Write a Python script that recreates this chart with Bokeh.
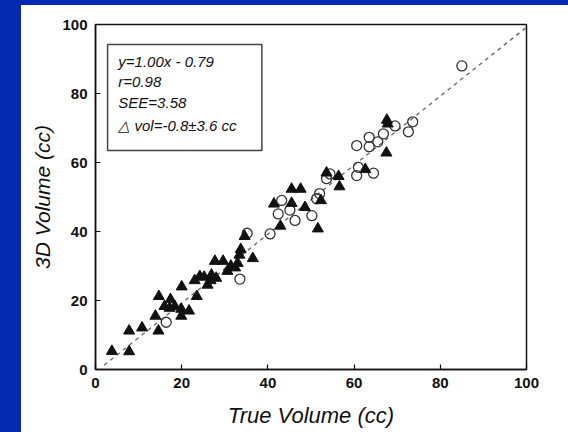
from bokeh.plotting import figure
from bokeh.models import Range1d, Label, BoxAnnotation, Div, FixedTicker
from bokeh.layouts import column
from bokeh.embed import file_html
from bokeh.resources import INLINE

# ---- data ----
tri_x = [3.8, 7.8, 7.8, 10.8, 14.6, 13.9, 14.7, 16.0, 17.2, 17.4, 18.4, 19.9, 19.9, 20.0, 21.7,
         23.5, 23.0, 24.2, 25.2, 26.0, 26.7, 26.9, 27.7, 28.0, 29.6, 30.6, 31.4, 32.4, 33.0, 33.4,
         33.7, 34.6, 36.5, 41.4, 42.9, 45.5, 47.6, 45.5, 48.6, 51.6, 52.3, 53.6, 56.4, 56.6, 62.6,
         67.5, 67.6, 67.8]
tri_y = [5.3, 5.2, 11.2, 12.1, 11.2, 15.5, 21.2, 18.3, 17.8, 20.3, 18.3, 17.5, 15.5, 24.0, 17.0,
         21.2, 25.8, 27.0, 26.8, 24.5, 25.8, 27.4, 31.4, 26.5, 31.4, 28.5, 30.0, 29.5, 30.8, 33.2,
         34.8, 38.6, 32.2, 48.0, 41.6, 52.3, 52.3, 48.2, 47.0, 40.8, 49.0, 57.0, 56.0, 53.0, 58.0,
         62.8, 72.3, 71.2]
circ_x = [16.4, 33.5, 35.2, 40.5, 42.4, 43.2, 45.1, 46.3, 50.2, 51.3, 52.0, 53.6, 54.4, 60.6,
          61.0, 64.5, 60.6, 63.5, 63.5, 65.5, 66.8, 69.5, 72.6, 73.6, 85.0]
circ_y = [13.7, 26.2, 39.5, 39.3, 45.1, 49.0, 46.2, 43.2, 44.6, 49.5, 51.0, 55.3, 56.7, 56.2,
          58.6, 56.9, 64.9, 67.3, 64.6, 66.0, 68.3, 70.6, 68.9, 71.8, 88.0]
fit_slope = 1.00
fit_intercept = -0.79
fit_x = [2, 100]
stats_lines = ["y=1.00x - 0.79", "r=0.98", "SEE=3.58", "\u25b3 vol=-0.8\u00b13.6 cc"]
ticks = [0, 20, 40, 60, 80, 100]

BLUE = "#0428B0"

p = figure(width=560, height=432, output_backend="svg", toolbar_location=None,
           x_range=Range1d(0, 100), y_range=Range1d(0, 100),
           min_border_left=95, min_border_right=34, min_border_top=24, min_border_bottom=63,
           background_fill_color="white", border_fill_color="white")
p.grid.visible = False
p.outline_line_color = "#111111"
p.outline_line_width = 1.5

for ax in (p.xaxis[0], p.yaxis[0]):
    ax.ticker = FixedTicker(ticks=ticks)
    ax.major_tick_in = 5
    ax.major_tick_out = 0
    ax.minor_tick_line_color = None
    ax.axis_line_color = "#111111"
    ax.axis_line_width = 1.5
    ax.major_tick_line_color = "#111111"
    ax.major_tick_line_width = 1.2
    ax.major_label_text_font = "Liberation Sans"
    ax.major_label_text_font_style = "bold"
    ax.major_label_text_font_size = "15px"
    ax.major_label_text_color = "#111111"
    ax.major_label_standoff = 8
    ax.axis_label_text_font = "Liberation Sans"
    ax.axis_label_text_font_style = "italic"
    ax.axis_label_text_color = "#111111"

p.xaxis.axis_label = "True Volume (cc)"
p.yaxis.axis_label = "3D Volume (cc)"
p.xaxis.axis_label_text_font_size = "22px"
p.yaxis.axis_label_text_font_size = "21px"
p.xaxis.axis_label_standoff = 12
p.yaxis.axis_label_standoff = 5

fit_y = [fit_slope * v + fit_intercept for v in fit_x]
p.line(fit_x, fit_y, line_color="#666666", line_dash="4 4", line_width=1.3)

p.scatter(circ_x, circ_y, marker="circle", size=10, fill_color="white", fill_alpha=0.0,
          line_color="#333333", line_width=1.3)
p.scatter(tri_x, tri_y, marker="triangle", size=11, fill_color="#111111", line_color="#111111")

p.add_layout(BoxAnnotation(left=2.8, right=38.6, bottom=63.5, top=94.2, fill_alpha=0,
                           line_color="#444444", line_width=1.5, line_alpha=1))
ys = [89.3, 83.5, 77.5, 70.7]
for t, yv in zip(stats_lines, ys):
    p.add_layout(Label(x=5.3, y=yv, text=t, text_font="Liberation Sans", text_font_style="italic",
                       text_font_size="15px", text_baseline="middle", text_color="#111111"))

strip = Div(text=('<div style="position:fixed;left:0;top:0;width:21px;height:432px;background:%s;"></div>'
                  '<div style="position:fixed;left:0;top:0;width:568px;height:5px;background:%s;"></div>') % (BLUE, BLUE),
            width=0, height=0)

layout = column(p, strip, spacing=0)
open("out.html", "w").write(file_html(layout, INLINE))
